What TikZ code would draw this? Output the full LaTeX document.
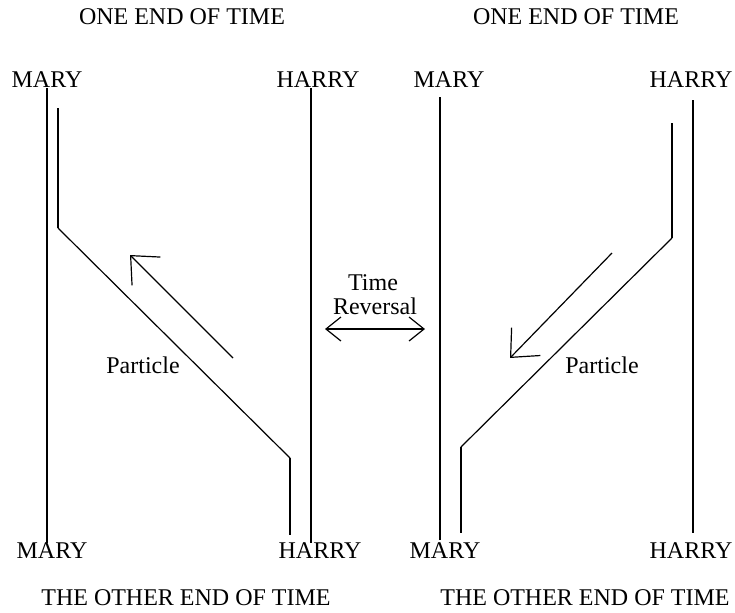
\documentclass[tikz,border=0pt]{standalone}
\usepackage{fontspec}
\setmainfont{Liberation Serif}
\usetikzlibrary{arrows.meta}

\begin{document}
\begin{tikzpicture}[x=0.5pt, y=-0.5pt,
    rotulo/.style={font=\fontsize{12}{14}\selectfont, inner sep=0pt},
    mundo/.style={line width=1pt},
    diag/.style={line width=0.6pt},
    flecha/.style={line width=0.6pt, -{Straight Barb[length=11pt,width=20pt]}},
    doble/.style={line width=0.6pt,
        {Straight Barb[length=7.5pt,width=12pt]}-{Straight Barb[length=7.5pt,width=12pt]}}]
    \fill[white] (0,0) rectangle (735,612);

    % textos de los extremos del tiempo
    \node[rotulo] (topL) at (182,17) {ONE END OF TIME};
    \node[rotulo] (topR) at (576,17) {ONE END OF TIME};
    \node[rotulo] (botL) at (186,598) {THE OTHER END OF TIME};
    \node[rotulo] (botR) at (585,598) {THE OTHER END OF TIME};

    % nombres arriba y abajo
    \node[rotulo] (maryTL)  at (47,80)  {MARY};
    \node[rotulo] (harryTL) at (318,80) {HARRY};
    \node[rotulo] (maryBL)  at (52,551) {MARY};
    \node[rotulo] (harryBL) at (320,551) {HARRY};
    \node[rotulo] (maryTR)  at (449,80) {MARY};
    \node[rotulo] (harryTR) at (691,80) {HARRY};
    \node[rotulo] (maryBR)  at (445,551) {MARY};
    \node[rotulo] (harryBR) at (691,551) {HARRY};

    % lado izquierdo
    \coordinate (mL1) at (47,88);   \coordinate (mL2) at (47,543);
    \coordinate (hL1) at (311,88);  \coordinate (hL2) at (311,543);
    \coordinate (pL1) at (58,108);  \coordinate (pL2) at (58,228);
    \coordinate (pL3) at (290,458); \coordinate (pL4) at (290,535);
    \coordinate (aL1) at (233,358); \coordinate (aL2) at (130,255);
    \draw[mundo] (mL1) -- (mL2);
    \draw[mundo] (hL1) -- (hL2);
    \draw[mundo] (pL1) -- (pL2);
    \draw[diag] (pL2) -- (pL3);
    \draw[mundo] (pL3) -- (pL4);
    \draw[flecha] (aL1) -- (aL2);
    \node[rotulo] (partL) at (143,365) {Particle};

    % lado derecho (invertido)
    \coordinate (mR1) at (440,97);  \coordinate (mR2) at (440,540);
    \coordinate (hR1) at (693,100); \coordinate (hR2) at (693,533);
    \coordinate (pR1) at (672,123); \coordinate (pR2) at (672,238);
    \coordinate (pR3) at (461,447); \coordinate (pR4) at (461,533);
    \coordinate (aR1) at (612,253); \coordinate (aR2) at (510,358);
    \draw[mundo] (mR1) -- (mR2);
    \draw[mundo] (hR1) -- (hR2);
    \draw[mundo] (pR1) -- (pR2);
    \draw[diag] (pR2) -- (pR3);
    \draw[mundo] (pR3) -- (pR4);
    \draw[flecha] (aR1) -- (aR2);
    \node[rotulo] (partR) at (602,365) {Particle};

    % centro
    \node[rotulo] (time) at (373,283) {Time};
    \node[rotulo] (rev) at (375,306) {Reversal};
    \coordinate (dL) at (325,329); \coordinate (dR) at (425,329);
    \draw[doble] (dL) -- (dR);
\end{tikzpicture}
\end{document}
